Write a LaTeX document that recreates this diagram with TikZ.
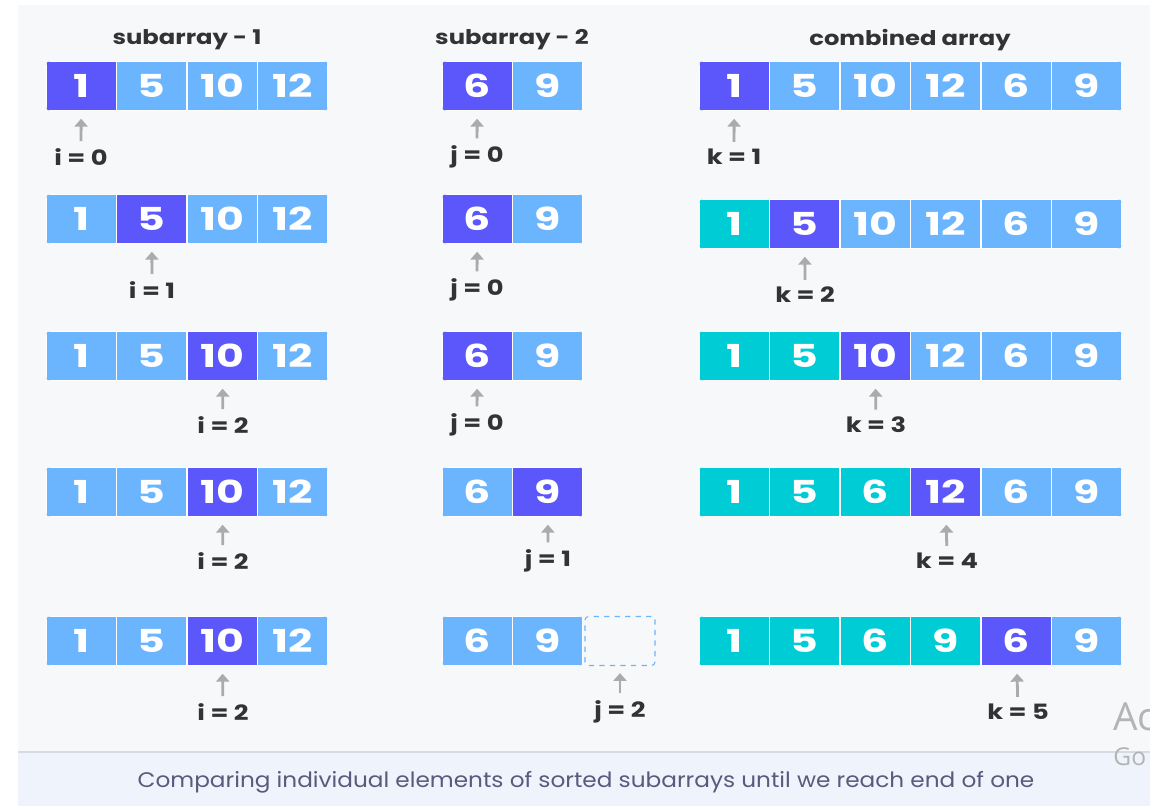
\documentclass[tikz,border=0pt]{standalone}
\usepackage{fontspec}
\setmainfont{Poppins}
\newfontfamily\cellfont{Poppins}[FakeStretch=1.35]
\newfontfamily\titlefont{Poppins}[FakeStretch=1.2]
\newfontfamily\labfont{Poppins}[FakeStretch=1.22]
\newfontfamily\capfont{Poppins}[FakeStretch=1.1]
\newfontfamily\wmfont{Open Sans}
\usetikzlibrary{arrows.meta}

\definecolor{cur}{HTML}{5B57FB}
\definecolor{todo}{HTML}{6BB5FF}
\definecolor{done}{HTML}{00CCD6}
\definecolor{ptrgray}{HTML}{ABABAB}
\definecolor{labtext}{HTML}{333333}
\definecolor{panel}{HTML}{F7F8FA}
\definecolor{band}{HTML}{EFF3FC}
\definecolor{bandline}{HTML}{D5DAE3}
\definecolor{captext}{HTML}{5A5A7D}
\definecolor{wm}{HTML}{B4B4B4}

% name, left x, centre y, number of cells, value/colour list
\newcommand{\cellrow}[5]{%
  \begin{scope}
    \clip[rounded corners=2.5pt] (#2,#3-25) rectangle ({#2+#4*70.5},#3+25);
    \foreach \v/\c [count=\n] in {#5}
      \node[cell, fill=\c] (#1-\n) at ({#2+(\n-0.5)*70.5},#3) {\v};
  \end{scope}}

\begin{document}
\begin{tikzpicture}[x=0.02cm, y=-0.02cm,
    cell/.style={draw=white, line width=0.8pt, minimum width=1.41cm, minimum height=1cm,
      inner sep=0, text=white, font=\cellfont\bfseries\fontsize{18}{18}\selectfont},
    title/.style={text=labtext, font=\titlefont\bfseries\fontsize{11.5}{12}\selectfont},
    lab/.style={inner sep=0, text=labtext, font=\labfont\bfseries\fontsize{12}{12}\selectfont},
    ptr/.style={-{Triangle[width=7.5pt,length=4.5pt]}, line width=1.6pt, ptrgray,
      shorten <=4pt, shorten >=4pt}]
  \useasboundingbox (0,0) rectangle (1150,806);
  \clip (0,0) rectangle (1150,806);
  \fill[white] (0,0) rectangle (1150,806);
  \fill[panel] (18,5) rectangle (1150,806);
  \fill[band] (18,752) rectangle (1150,806);
  \draw[bandline, line width=0.6pt] (18,752) -- (1150,752);

  \node[title] (t1) at (187,40) {subarray - 1};
  \node[title] (t2) at (512,40) {subarray - 2};
  \node[title] (t3) at (910,40) {combined array};

  % step 1
  \cellrow{a1}{46}{86}{4}{1/cur,5/todo,10/todo,12/todo}
  \cellrow{b1}{442}{86}{2}{6/cur,9/todo}
  \cellrow{c1}{699}{86}{6}{1/cur,5/todo,10/todo,12/todo,6/todo,9/todo}
  \node[lab] (i1) at (81,157) {i = 0};
  \node[lab] (j1) at (477,157) {j = 0};
  \node[lab] (k1) at (734,157) {k = 1};
  \draw[ptr] (i1) -- (a1-1);
  \draw[ptr] (j1) -- (b1-1);
  \draw[ptr] (k1) -- (c1-1);

  % step 2
  \cellrow{a2}{46}{219}{4}{1/todo,5/cur,10/todo,12/todo}
  \cellrow{b2}{442}{219}{2}{6/cur,9/todo}
  \cellrow{c2}{699}{224}{6}{1/done,5/cur,10/todo,12/todo,6/todo,9/todo}
  \node[lab] (i2) at (152,290) {i = 1};
  \node[lab] (j2) at (477,290) {j = 0};
  \node[lab] (k2) at (805,295) {k = 2};
  \draw[ptr] (i2) -- (a2-2);
  \draw[ptr] (j2) -- (b2-1);
  \draw[ptr] (k2) -- (c2-2);

  % step 3
  \cellrow{a3}{46}{356}{4}{1/todo,5/todo,10/cur,12/todo}
  \cellrow{b3}{442}{356}{2}{6/cur,9/todo}
  \cellrow{c3}{699}{356}{6}{1/done,5/done,10/cur,12/todo,6/todo,9/todo}
  \node[lab] (i3) at (223,425) {i = 2};
  \node[lab] (j3) at (477,425) {j = 0};
  \node[lab] (k3) at (876,425) {k = 3};
  \draw[ptr] (i3) -- (a3-3);
  \draw[ptr] (j3) -- (b3-1);
  \draw[ptr] (k3) -- (c3-3);

  % step 4
  \cellrow{a4}{46}{492}{4}{1/todo,5/todo,10/cur,12/todo}
  \cellrow{b4}{442}{492}{2}{6/todo,9/cur}
  \cellrow{c4}{699}{492}{6}{1/done,5/done,6/done,12/cur,6/todo,9/todo}
  \node[lab] (i4) at (223,561) {i = 2};
  \node[lab] (j4) at (548,561) {j = 1};
  \node[lab] (k4) at (947,561) {k = 4};
  \draw[ptr] (i4) -- (a4-3);
  \draw[ptr] (j4) -- (b4-2);
  \draw[ptr] (k4) -- (c4-4);

  % step 5
  \cellrow{a5}{46}{641}{4}{1/todo,5/todo,10/cur,12/todo}
  \cellrow{b5}{442}{641}{2}{6/todo,9/todo}
  \node[draw=todo, dashed, line width=0.6pt, minimum width=1.4cm, minimum height=0.98cm,
    rounded corners=2pt] (b5-3) at (620,641) {};
  \cellrow{c5}{699}{641}{6}{1/done,5/done,6/done,9/done,6/cur,9/todo}
  \node[lab] (i5) at (223,712) {i = 2};
  \node[lab] (j5) at (620,712) {j = 2};
  \node[lab] (k5) at (1018,712) {k = 5};
  \draw[ptr] (i5) -- (a5-3);
  \draw[ptr] (j5) -- (b5-3);
  \draw[ptr] (k5) -- (c5-5);

  \node[text=captext, font=\capfont\fontsize{12}{12}\selectfont] (cap) at (586,782)
    {Comparing individual elements of sorted subarrays until we reach end of one};
  \node[anchor=west, inner sep=0, text=wm, font=\wmfont\fontsize{22}{22}\selectfont] (ac) at (1113,717) {Ac};
  \node[anchor=west, inner sep=0, text=wm, font=\wmfont\fontsize{14}{14}\selectfont] (go) at (1113,757) {Go};
\end{tikzpicture}
\end{document}
